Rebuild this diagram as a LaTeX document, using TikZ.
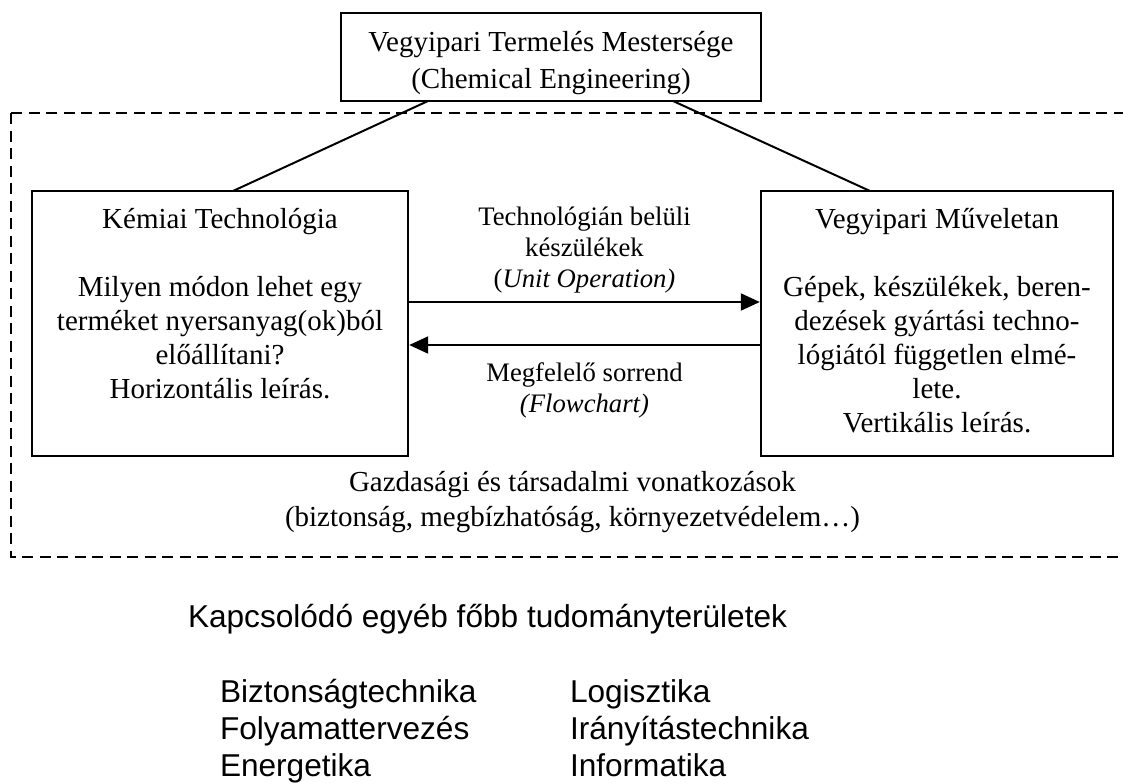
\documentclass[tikz,border=0pt]{standalone}
\usepackage{fontspec}
\setmainfont{Liberation Serif}
\newfontfamily\sansfam{Liberation Sans}
\usetikzlibrary{arrows.meta,calc}
\newcommand{\cstack}[1]{\begin{tabular}[t]{@{}c@{}}#1\end{tabular}}
\newcommand{\lstack}[1]{\begin{tabular}[t]{@{}l@{}}#1\end{tabular}}
\begin{document}
\begin{tikzpicture}[x=1pt,y=-1pt,
  boxst/.style={draw, line width=2.6pt, inner sep=0pt, outer sep=0pt},
  txt/.style={anchor=base, inner sep=0pt, outer sep=0pt, font=\fontsize{29}{34}\selectfont},
  toptxt/.style={txt, font=\fontsize{29}{37}\selectfont},
  lbltxt/.style={txt, font=\fontsize{26.7}{31}\selectfont},
  bottxt/.style={txt, font=\fontsize{29}{35}\selectfont},
  sanstxt/.style={anchor=base west, inner sep=0pt, outer sep=0pt, font=\sansfam\fontsize{31.6}{37}\selectfont},
  conn/.style={line width=2pt},
  arr/.style={line width=2pt, -{Triangle[length=19pt,width=17pt]}, shorten >=1.2pt},
  dashbox/.style={line width=2.4pt, dash pattern=on 11pt off 6.5pt}]
\useasboundingbox (0,0) rectangle (1123,782);

% dashed frame
\coordinate (dtl) at (11,113);
\coordinate (dtr) at (1123,113);
\coordinate (dbl) at (11,557);
\coordinate (dbr) at (1123,557);
\draw[dashbox] (dtl) -- (dtr);
\draw[dashbox] (dtl) -- (dbl) -- (dbr);

% boxes
\node[boxst, minimum width=420pt, minimum height=88pt] (cheng) at (551,57) {};
\node[boxst, minimum width=376pt, minimum height=265pt] (kt) at (220,323.5) {};
\node[boxst, minimum width=352pt, minimum height=265pt] (vm) at (937,323.5) {};

% box texts
\node[toptxt] (chengtxt) at (551,51) {\cstack{Vegyipari Termelés Mestersége\\(Chemical Engineering)}};
\node[txt] (kttitle) at (220,228) {Kémiai Technológia};
\node[txt] (ktbody) at (220,296) {\cstack{Milyen módon lehet egy\\terméket nyersanyag(ok)ból\\előállítani?\\Horizontális leírás.}};
\node[txt] (vmtitle) at (937,228) {Vegyipari Műveletan};
\node[txt] (vmbody) at (937,296) {\cstack{Gépek, készülékek, beren-\\dezések gyártási techno-\\lógiától független elmé-\\lete.\\Vertikális leírás.}};

% connectors
\draw[conn] ([xshift=87pt]cheng.south west) -- ([xshift=201pt]kt.north west);
\draw[conn] ([xshift=332pt]cheng.south west) -- ([xshift=109pt]vm.north west);

% arrows
\coordinate (yr) at (0,302);
\coordinate (yl) at (0,345);
\draw[arr] (kt.east |- yr) -- (vm.west |- yr);
\draw[arr] (vm.west |- yl) -- (kt.east |- yl);

% arrow labels
\node[lbltxt] (uolbl) at (584.5,225) {\cstack{Technológián belüli\\készülékek\\(\textit{Unit Operation)}}};
\node[lbltxt] (fclbl) at (584.5,381) {\cstack{Megfelelő sorrend\\\textit{(Flowchart)}}};

% economic aspects
\node[bottxt] (gazd) at (572.5,491) {\cstack{Gazdasági és társadalmi vonatkozások\\(biztonság, megbízhatóság, környezetvédelem…)}};

% related fields
\node[sanstxt] (kapcs) at (188,627) {Kapcsolódó egyéb főbb tudományterületek};
\node[sanstxt] (col1) at (220,702) {\lstack{Biztonságtechnika\\Folyamattervezés\\Energetika}};
\node[sanstxt] (col2) at (570,702) {\lstack{Logisztika\\Irányítástechnika\\Informatika}};
\end{tikzpicture}
\end{document}
